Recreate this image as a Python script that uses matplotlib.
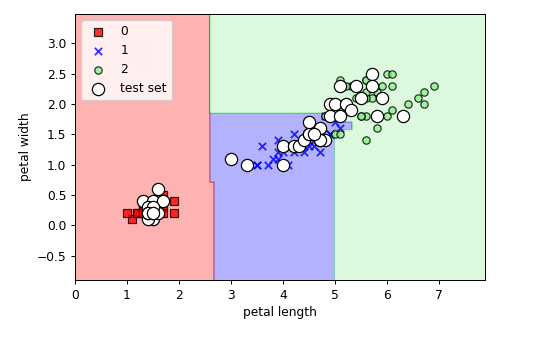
import numpy as np
import matplotlib
matplotlib.use("Agg")
import matplotlib.pyplot as plt
from matplotlib.colors import ListedColormap

# Iris petal measurements (length, width) per class
setosa_len = [1.4, 1.4, 1.3, 1.5, 1.4, 1.7, 1.4, 1.5, 1.4, 1.5, 1.5, 1.6, 1.4, 1.1, 1.2,
              1.5, 1.3, 1.4, 1.7, 1.5, 1.7, 1.5, 1.0, 1.7, 1.9, 1.6, 1.6, 1.5, 1.4, 1.6,
              1.6, 1.5, 1.5, 1.4, 1.5, 1.2, 1.3, 1.4, 1.3, 1.5, 1.3, 1.3, 1.3, 1.6, 1.9,
              1.4, 1.6, 1.4, 1.5, 1.4]
setosa_wid = [0.2, 0.2, 0.2, 0.2, 0.2, 0.4, 0.3, 0.2, 0.2, 0.1, 0.2, 0.2, 0.1, 0.1, 0.2,
              0.4, 0.4, 0.3, 0.3, 0.3, 0.2, 0.4, 0.2, 0.5, 0.2, 0.2, 0.4, 0.2, 0.2, 0.2,
              0.2, 0.4, 0.1, 0.2, 0.2, 0.2, 0.2, 0.1, 0.2, 0.2, 0.3, 0.3, 0.2, 0.6, 0.4,
              0.3, 0.2, 0.2, 0.2, 0.2]
versicolor_len = [4.7, 4.5, 4.9, 4.0, 4.6, 4.5, 4.7, 3.3, 4.6, 3.9, 3.5, 4.2, 4.0, 4.7, 3.6,
                  4.4, 4.5, 4.1, 4.5, 3.9, 4.8, 4.0, 4.9, 4.7, 4.3, 4.4, 4.8, 5.0, 4.5, 3.5,
                  3.8, 3.7, 3.9, 5.1, 4.5, 4.5, 4.7, 4.4, 4.1, 4.0, 4.4, 4.6, 4.0, 3.3, 4.2,
                  4.2, 4.2, 4.3, 3.0, 4.1]
versicolor_wid = [1.4, 1.5, 1.5, 1.3, 1.5, 1.3, 1.6, 1.0, 1.3, 1.4, 1.0, 1.5, 1.0, 1.4, 1.3,
                  1.4, 1.5, 1.0, 1.5, 1.1, 1.8, 1.3, 1.5, 1.2, 1.3, 1.4, 1.4, 1.7, 1.5, 1.0,
                  1.1, 1.0, 1.2, 1.6, 1.5, 1.6, 1.5, 1.3, 1.3, 1.3, 1.2, 1.4, 1.2, 1.0, 1.3,
                  1.2, 1.3, 1.3, 1.1, 1.3]
virginica_len = [6.0, 5.1, 5.9, 5.6, 5.8, 6.6, 4.5, 6.3, 5.8, 6.1, 5.1, 5.3, 5.5, 5.0, 5.1,
                 5.3, 5.5, 6.7, 6.9, 5.0, 5.7, 4.9, 6.7, 4.9, 5.7, 6.0, 4.8, 4.9, 5.6, 5.8,
                 6.1, 6.4, 5.6, 5.1, 5.6, 6.1, 5.6, 5.5, 4.8, 5.4, 5.6, 5.1, 5.1, 5.9, 5.7,
                 5.2, 5.0, 5.2, 5.4, 5.1]
virginica_wid = [2.5, 1.9, 2.1, 1.8, 2.2, 2.1, 1.7, 1.8, 1.8, 2.5, 2.0, 1.9, 2.1, 2.0, 2.4,
                 2.3, 1.8, 2.2, 2.3, 1.5, 2.3, 2.0, 2.0, 1.8, 2.1, 1.8, 1.8, 1.8, 2.1, 1.6,
                 1.9, 2.0, 2.2, 1.5, 1.4, 2.3, 2.4, 1.8, 1.8, 2.1, 2.4, 2.3, 1.9, 2.3, 2.5,
                 2.3, 1.9, 2.0, 2.3, 1.8]

# Held-out samples (petal length, petal width)
test_len = [1.6, 1.3, 1.5, 1.7, 1.4, 1.5, 1.4, 1.5, 1.4, 1.5, 1.4, 1.6, 1.5, 1.4, 1.5,
            3.0, 3.3, 4.0, 4.0, 4.2, 4.3, 4.4, 4.5, 4.6, 4.7, 4.7, 4.8, 4.5, 4.7, 4.6,
            5.7, 5.1, 5.4, 5.7, 5.5, 5.9, 4.9, 5.0, 5.2, 5.3, 4.9, 5.1, 5.8, 6.3, 4.5]
test_wid = [0.6, 0.4, 0.4, 0.4, 0.2, 0.2, 0.3, 0.1, 0.1, 0.2, 0.2, 0.2, 0.3, 0.2, 0.2,
            1.1, 1.0, 1.0, 1.3, 1.3, 1.3, 1.4, 1.5, 1.5, 1.6, 1.4, 1.4, 1.5, 1.4, 1.5,
            2.5, 2.3, 2.3, 2.3, 2.1, 2.1, 2.0, 2.0, 2.0, 1.9, 1.8, 1.8, 1.8, 1.8, 1.7]

# Decision regions: (class, x_from, x_to, y_from, y_to), painted in order over class 2
regions = [
    (1, 2.6, 5.0, -9.0, 1.85),
    (1, 5.0, 5.34, 1.58, 1.71),
    (0, -9.0, 2.6, -9.0, 9.0),
    (0, -9.0, 2.68, -9.0, 0.72),
]

class_labels = ["0", "1", "2"]
markers = ["s", "x", "o"]
colors = ["red", "blue", "lightgreen"]

X = [(setosa_len, setosa_wid), (versicolor_len, versicolor_wid), (virginica_len, virginica_wid)]

all_len = np.concatenate([np.array(a) for a, _ in X])
all_wid = np.concatenate([np.array(b) for _, b in X])
x1_min, x1_max = all_len.min() - 1, all_len.max() + 1
x2_min, x2_max = all_wid.min() - 1, all_wid.max() + 1
resolution = 0.02
xx1, xx2 = np.meshgrid(np.arange(x1_min, x1_max, resolution),
                       np.arange(x2_min, x2_max, resolution))
Z = np.full(xx1.shape, 2.0)
for cl, xa, xb, ya, yb in regions:
    mask = (xx1 >= xa) & (xx1 < xb) & (xx2 >= ya) & (xx2 < yb)
    Z[mask] = cl

DPI = 88
fig = plt.figure(figsize=(543 / DPI, 339 / DPI), dpi=DPI)
ax = fig.add_axes([75 / 543, 59 / 339, 410 / 543, 266 / 339])

cmap = ListedColormap(colors)
ax.contourf(xx1, xx2, Z, alpha=0.3, cmap=cmap)
ax.set_xlim(xx1.min(), xx1.max())
ax.set_ylim(xx2.min(), xx2.max())

for idx, (lx, wy) in enumerate(X):
    kw = dict(alpha=0.8, c=colors[idx], marker=markers[idx], label=class_labels[idx])
    if markers[idx] != "x":
        kw["edgecolor"] = "black"
    ax.scatter(lx, wy, **kw)

ax.scatter(test_len, test_wid, c="white", edgecolor="black", alpha=1.0,
           linewidth=1, marker="o", s=100, label="test set")

ax.set_xlabel("petal length")
ax.set_ylabel("petal width")
ax.legend(loc="upper left")

fig.savefig("out.png", dpi=DPI)
